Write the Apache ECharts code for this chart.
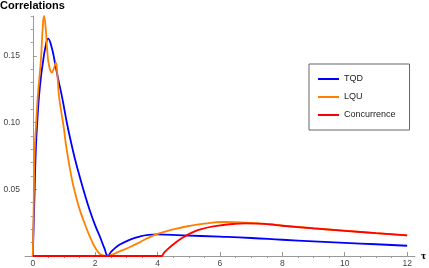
<!DOCTYPE html>
<html>
<head>
<meta charset="utf-8">
<script src="https://cdn.jsdelivr.net/npm/echarts@6/dist/echarts.min.js"></script>
<style>html,body{margin:0;padding:0;background:#fff}#c{width:429px;height:268px}</style>
</head>
<body>
<div id="c"></div>
<script>
// ---- data ----
var seriesNames = ['TQD', 'LQU', 'Concurrence'];

var tqdT = [0, 0.05, 0.1, 0.15, 0.2, 0.27, 0.33, 0.4, 0.49, 0.6, 0.71, 0.82, 0.94, 1.1, 1.21, 1.35, 1.51, 1.67, 1.83, 2.0, 2.15, 2.3, 2.41, 2.5, 2.6, 2.79, 3.1, 3.43, 3.7, 4.0, 4.8, 6, 7, 8, 9, 10, 11, 12];
var tqdV = [0, 0.042, 0.0815, 0.103, 0.12, 0.136, 0.146, 0.156, 0.163, 0.157, 0.145, 0.132, 0.119, 0.099, 0.087, 0.073, 0.059, 0.046, 0.034, 0.023, 0.0146, 0.0055, 0, 0.0028, 0.0052, 0.0086, 0.0121, 0.0146, 0.0158, 0.0162, 0.0155, 0.0145, 0.0135, 0.0122, 0.011, 0.0099, 0.0088, 0.0077];

var lquT = [0, 0.03, 0.064, 0.11, 0.16, 0.26, 0.31, 0.36, 0.41, 0.46, 0.52, 0.61, 0.68, 0.74, 0.79, 0.84, 0.92, 1.0, 1.06, 1.24, 1.37, 1.51, 1.67, 1.83, 2.04, 2.2, 2.37, 2.5, 2.8, 3.1, 3.43, 3.75, 4.0, 4.5, 5.0, 5.5, 6.1, 6.5, 7.0, 7.6, 8, 9, 10, 11, 12];
var lquV = [0, 0.04, 0.0815, 0.1, 0.12, 0.147, 0.168, 0.18, 0.172, 0.155, 0.143, 0.1377, 0.141, 0.145, 0.135, 0.12, 0.107, 0.0951, 0.084, 0.0592, 0.046, 0.0344, 0.024, 0.0146, 0.0047, 0.0008, 0, 0.0006, 0.0036, 0.0066, 0.0103, 0.0142, 0.0166, 0.0199, 0.0225, 0.0243, 0.0255, 0.0254, 0.0248, 0.0238, 0.0228, 0.0208, 0.019, 0.0172, 0.0155];

var conT = [0, 4.12, 4.2, 4.3, 4.5, 4.7, 4.9, 5.1, 5.4, 5.9, 6.4, 6.8, 7.2, 7.6, 8, 9, 10, 11, 12];
var conV = [0, 0, 0.0022, 0.0046, 0.0086, 0.0122, 0.0151, 0.0175, 0.0202, 0.0226, 0.024, 0.0245, 0.0243, 0.0237, 0.0227, 0.0207, 0.0189, 0.0171, 0.0154];

var xMajorTicks = [0, 2, 4, 6, 8, 10, 12];
var xMinorTicks = [0.5, 1, 1.5, 2.5, 3, 3.5, 4.5, 5, 5.5, 6.5, 7, 7.5, 8.5, 9, 9.5, 10.5, 11, 11.5];
var yMajorTicks = [0.05, 0.1, 0.15];
var yMinorTicks = [0.01, 0.02, 0.03, 0.04, 0.06, 0.07, 0.08, 0.09, 0.11, 0.12, 0.13, 0.14, 0.16, 0.17, 0.18];
var colors = ['#0000ff', '#ff8000', '#ff0000'];

function zip(t, v) { return t.map(function (x, i) { return [x, v[i]]; }); }

var chart = echarts.init(document.getElementById('c'), null, { renderer: 'canvas' });
var axisColor = '#999999';
var labelStyle = { color: '#444', fontSize: 8.5, fontFamily: 'Liberation Sans, Arial, sans-serif' };

function mkSeries(name, data, color) {
  return {
    name: name, type: 'line', data: data, xAxisIndex: 0, yAxisIndex: 0,
    showSymbol: false, symbol: 'none', smooth: 0.5, clip: false,
    lineStyle: { color: color, width: 1.8 }, itemStyle: { color: color }
  };
}

chart.setOption({
  animation: false,
  title: {
    text: 'Correlations', left: 0, top: 0, padding: 0,
    textStyle: { fontSize: 11, fontWeight: 'bold', color: '#000', fontFamily: 'Liberation Sans, Arial, sans-serif' }
  },
  legend: {
    data: seriesNames, orient: 'vertical', left: 309, top: 64,
    borderColor: '#666', borderWidth: 1, backgroundColor: '#fff',
    padding: [9, 14, 9, 9], itemWidth: 21, itemHeight: 2, itemGap: 6, icon: 'rect',
    textStyle: { fontSize: 9, lineHeight: 12, color: '#222', fontFamily: 'Liberation Sans, Arial, sans-serif' }
  },
  grid: { left: 25, right: 14, top: 16, bottom: 10, containLabel: false },
  xAxis: [{
    type: 'value', min: -0.25, max: 12.25,
    name: 'τ', nameLocation: 'end', nameGap: 6,
    nameTextStyle: { fontSize: 11, fontWeight: 'bold', color: '#000', verticalAlign: 'middle', fontFamily: 'Liberation Serif, serif' },
    axisLine: { show: true, onZero: true, lineStyle: { color: axisColor, width: 1 } },
    axisTick: { show: true, inside: true, length: 4, customValues: xMajorTicks, lineStyle: { color: axisColor } },
    axisLabel: Object.assign({ show: true, margin: 3, customValues: xMajorTicks, formatter: function (v) { return String(v); } }, labelStyle),
    splitLine: { show: false }
  }, {
    type: 'value', min: -0.25, max: 12.25,
    axisLine: { show: false, onZero: true },
    axisTick: { show: true, inside: true, length: 2, customValues: xMinorTicks, lineStyle: { color: axisColor } },
    axisLabel: { show: false },
    splitLine: { show: false }
  }],
  yAxis: [{
    type: 'value', min: 0, max: 0.18,
    axisLine: { show: true, onZero: true, onZeroAxisIndex: 0, lineStyle: { color: axisColor, width: 1 } },
    axisTick: { show: true, inside: true, length: 4, customValues: yMajorTicks, lineStyle: { color: axisColor } },
    axisLabel: Object.assign({ show: true, margin: 5, customValues: yMajorTicks, formatter: function (v) { return v.toFixed(2); } }, labelStyle),
    splitLine: { show: false }
  }, {
    type: 'value', min: 0, max: 0.18,
    axisLine: { show: false, onZero: true, onZeroAxisIndex: 0 },
    axisTick: { show: true, inside: true, length: 2, customValues: yMinorTicks, lineStyle: { color: axisColor } },
    axisLabel: { show: false },
    splitLine: { show: false }
  }],
  series: [
    mkSeries(seriesNames[0], zip(tqdT, tqdV), colors[0]),
    mkSeries(seriesNames[1], zip(lquT, lquV), colors[1]),
    mkSeries(seriesNames[2], zip(conT, conV), colors[2])
  ]
});
</script>
</body>
</html>
